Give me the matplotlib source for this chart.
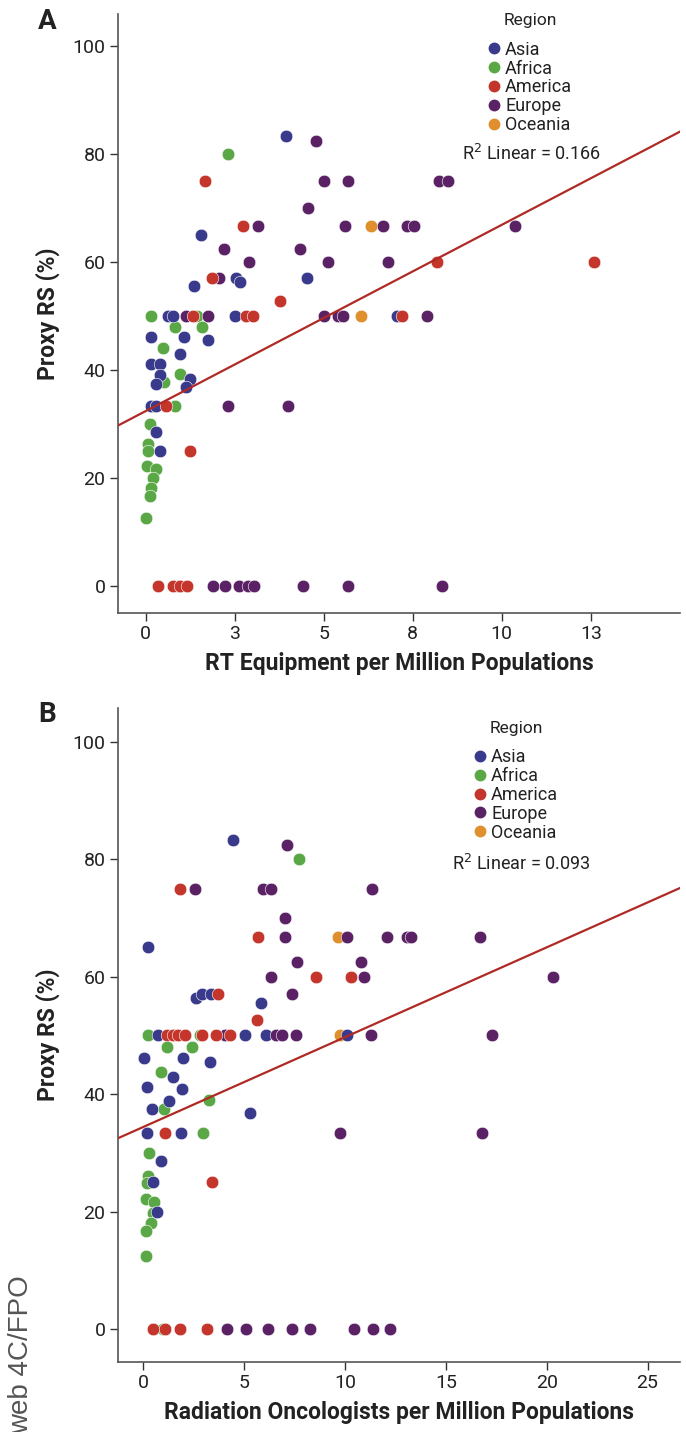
import numpy as np
import matplotlib
matplotlib.use("Agg")
import matplotlib.pyplot as plt
from matplotlib.ticker import FixedLocator
from matplotlib.lines import Line2D

plt.rcParams['font.family'] = ['Roboto', 'DejaVu Sans']

regions = ['Asia', 'Africa', 'America', 'Europe', 'Oceania']
colors = {'Asia': '#3a3a8c', 'Africa': '#5aa845', 'America': '#c4352b',
          'Europe': '#5b2165', 'Oceania': '#df8f2b'}

# Panel A: RT equipment per million vs proxy RS
a_asia_x = [3.94, 1.54, 2.54, 2.66, 4.53, 1.35, 0.62, 0.77, 2.51, 7.07, 0.16, 1.06, 1.75, 0.97,
            0.16, 0.41, 0.39, 1.25, 0.30, 1.14, 0.16, 0.30, 0.30, 0.41]
a_asia_y = [83.3, 65.0, 57.1, 56.3, 57.1, 55.6, 50, 50, 50, 50, 46.2, 46.2, 45.5, 42.9,
            41.2, 41.2, 39.0, 38.3, 37.5, 36.9, 33.3, 33.3, 28.6, 25.0]
a_africa_x = [2.32, 0.16, 1.45, 0.81, 1.58, 0.49, 0.95, 0.50, 0.81, 0.13, 0.07, 0.07, 0.04,
              0.28, 0.20, 0.16, 0.13, 0.02, 0.90]
a_africa_y = [80, 50, 50, 48, 48, 44, 39.3, 37.7, 33.3, 30, 26.3, 25, 22.2,
              21.7, 20, 18.2, 16.7, 12.5, 0]
a_america_x = [1.65, 2.74, 1.86, 3.77, 1.33, 2.82, 3.01, 8.19, 12.58, 0.58, 1.23, 7.20,
               0.35, 0.77, 0.95, 1.16]
a_america_y = [75, 66.7, 57.1, 52.8, 50, 50, 50, 60, 60, 33.3, 25, 50,
               0, 0, 0, 0]
a_europe_x = [4.78, 5.00, 5.67, 8.24, 8.49, 4.57, 3.15, 5.59, 6.65, 7.35, 7.54, 10.38, 2.21,
              4.33, 2.91, 5.13, 6.81, 2.05, 1.14, 1.75, 5.01, 5.39, 5.53, 7.91, 2.32, 4.00,
              1.90, 2.23, 2.63, 2.87, 3.05, 4.43, 5.69, 8.33]
a_europe_y = [82.5, 75, 75, 75, 75, 70, 66.7, 66.7, 66.7, 66.7, 66.7, 66.7, 62.5,
              62.5, 60, 60, 60, 57.1, 50, 50, 50, 50, 50, 50, 33.3, 33.3,
              0, 0, 0, 0, 0, 0, 0, 0]
a_oceania_x = [6.34, 6.04]
a_oceania_y = [66.7, 50]
a_fit = (32.4, 3.45)  # intercept, slope
a_r2 = 0.166

# Panel B: radiation oncologists per million vs proxy RS
b_asia_x = [4.43, 0.25, 2.61, 2.90, 3.36, 5.82, 0.74, 5.04, 6.07, 10.12, 0.05, 1.95, 3.31, 1.49,
            0.20, 1.90, 1.29, 0.42, 5.29, 0.20, 1.85, 0.86, 0.50, 0.69]
b_asia_y = [83.3, 65.0, 56.3, 57.1, 57.1, 55.6, 50, 50, 50, 50, 46.2, 46.2, 45.5, 42.9,
            41.2, 40.9, 38.9, 37.5, 36.8, 33.3, 33.3, 28.6, 25.0, 20.0]
b_africa_x = [7.74, 0.22, 2.81, 1.16, 2.43, 0.88, 3.27, 1.04, 2.98, 0.28, 0.22, 0.17, 0.13,
              0.55, 0.47, 0.38, 0.12, 0.13, 1.00]
b_africa_y = [80, 50, 50, 48, 48, 43.8, 39.0, 37.5, 33.3, 30, 26.1, 24.8, 22.1,
              21.6, 19.8, 18.0, 16.7, 12.5, 0]
b_america_x = [1.82, 5.70, 8.55, 10.29, 3.72, 5.66, 1.16, 1.49, 1.74, 2.07, 2.90, 3.61, 4.30,
               1.08, 3.39, 0.50, 1.08, 1.82, 3.17]
b_america_y = [75, 66.7, 60, 60, 57.1, 52.6, 50, 50, 50, 50, 50, 50, 50,
               33.3, 25, 0, 0, 0, 0]
b_europe_x = [7.14, 2.56, 5.92, 6.33, 11.33, 7.03, 7.03, 10.12, 12.07, 13.07, 13.26, 16.67,
              7.64, 10.78, 6.32, 10.95, 20.30, 7.38, 4.05, 6.57, 6.90, 7.57, 11.28, 17.28,
              9.76, 16.80, 4.14, 5.09, 6.20, 7.36, 8.27, 10.45, 11.38, 12.24]
b_europe_y = [82.5, 75, 75, 75, 75, 70, 66.7, 66.7, 66.7, 66.7, 66.7, 66.7,
              62.5, 62.5, 60, 60, 60, 57.1, 50, 50, 50, 50, 50, 50,
              33.3, 33.3, 0, 0, 0, 0, 0, 0, 0, 0]
b_oceania_x = [9.67, 9.76]
b_oceania_y = [66.7, 50]
b_fit = (34.4, 1.53)
b_r2 = 0.093

a_xticks = [0, 2.5, 5, 7.5, 10, 12.5]
a_xticklabels = ['0', '3', '5', '8', '10', '13']
b_xticks = [0, 5, 10, 15, 20, 25]
yticks = [0, 20, 40, 60, 80, 100]

panels = [
    dict(letter='A', pos=[0.172, 0.572, 0.819, 0.418], xlim=(-0.78, 15.0), ylim=(-5.0, 105.9),
         data={'Asia': (a_asia_x, a_asia_y), 'Africa': (a_africa_x, a_africa_y),
               'America': (a_america_x, a_america_y), 'Europe': (a_europe_x, a_europe_y),
               'Oceania': (a_oceania_x, a_oceania_y)},
         fit=a_fit, r2=a_r2, xticks=a_xticks, xticklabels=a_xticklabels,
         xlabel='RT Equipment per Million Populations',
         leg_anchor=(0.652, 1.008), r2_pos=(0.612, 0.767)),
    dict(letter='B', pos=[0.172, 0.049, 0.819, 0.4567], xlim=(-1.25, 26.6), ylim=(-5.6, 105.8),
         data={'Asia': (b_asia_x, b_asia_y), 'Africa': (b_africa_x, b_africa_y),
               'America': (b_america_x, b_america_y), 'Europe': (b_europe_x, b_europe_y),
               'Oceania': (b_oceania_x, b_oceania_y)},
         fit=b_fit, r2=b_r2, xticks=b_xticks, xticklabels=[str(t) for t in b_xticks],
         xlabel='Radiation Oncologists per Million Populations',
         leg_anchor=(0.627, 0.986), r2_pos=(0.594, 0.762)),
]

fig = plt.figure(figsize=(6.86, 14.32), dpi=100)

for p in panels:
    ax = fig.add_axes(p['pos'])
    # Africa first so overlapping reds/blues sit on top
    for reg in ['Africa', 'Oceania', 'Asia', 'Europe', 'America']:
        xs, ys = p['data'][reg]
        ax.scatter(xs, ys, s=82, color=colors[reg], edgecolors='white', linewidths=0.4,
                   zorder=3)
    b0, b1 = p['fit']
    lx = np.array(p['xlim'])
    ax.plot(lx, b0 + b1 * lx, color='#b02a25', lw=1.6, zorder=4)

    ax.set_xlim(*p['xlim'])
    ax.set_ylim(*p['ylim'])
    ax.xaxis.set_major_locator(FixedLocator(p['xticks']))
    ax.set_xticklabels(p['xticklabels'])
    ax.yaxis.set_major_locator(FixedLocator(yticks))
    ax.tick_params(labelsize=14, length=6, width=1, pad=3, color='#333333',
                   labelcolor='#222222')
    for s in ['top', 'right']:
        ax.spines[s].set_visible(False)
    for s in ['left', 'bottom']:
        ax.spines[s].set_color('#555555')
        ax.spines[s].set_linewidth(1.2)

    ax.set_ylabel('Proxy RS (%)', fontsize=16.5, fontweight='bold', labelpad=9, color='#222222')
    ax.set_xlabel(p['xlabel'], fontsize=16.5, fontweight='bold', labelpad=6, color='#222222')
    ax.text(-0.142, 1.01, p['letter'], transform=ax.transAxes, fontsize=20,
            fontweight='bold', va='top', ha='left', color='#222222')

    handles = [Line2D([], [], marker='o', ls='', markersize=7.5, color=colors[r])
               for r in regions]
    leg = ax.legend(handles, regions, title='Region', loc='upper left',
                    bbox_to_anchor=p['leg_anchor'], frameon=False, fontsize=13,
                    title_fontsize=12.5, handletextpad=0.25, labelspacing=0.05,
                    handlelength=0.7, borderpad=0.2, borderaxespad=0)
    leg._legend_box.sep = 9
    for t in leg.get_texts():
        t.set_color('#222222')
    leg.get_title().set_color('#222222')
    ax.text(p['r2_pos'][0], p['r2_pos'][1], 'R$^2$ Linear = %.3f' % p['r2'],
            transform=ax.transAxes, fontsize=13, color='#222222', ha='left', va='center')

fig.text(0.012, 1 - 1275 / 1432, 'web 4C/FPO', rotation=90, fontsize=20,
         family='Liberation Sans', color='#555555', ha='left', va='top')

fig.savefig('out.png', dpi=100)
